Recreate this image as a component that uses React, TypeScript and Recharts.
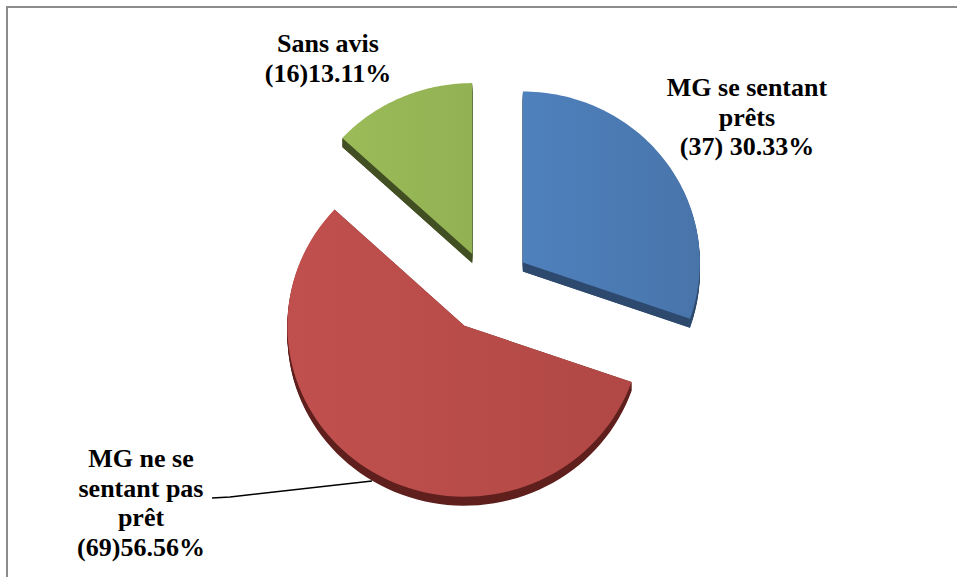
import React from 'react';
import { PieChart, Pie, Cell } from 'recharts';

const names = ['MG se sentant prêts', 'MG ne se sentant pas prêt', 'Sans avis'];
const counts = [37, 69, 16];
const labelLines = [
  ['MG se sentant', 'prêts', '(37) 30.33%'],
  ['MG ne se', 'sentant pas', 'prêt', '(69)56.56%'],
  ['Sans avis', '(16)13.11%'],
];

const data = names.map((name, i) => ({ name, value: counts[i] }));

const TOP = ['#4F81BD', '#C0504D', '#9BBB59'];
const TOP_DARK = ['#4874AA', '#B14845', '#92B153'];
const SIDE = ['#2D4A6E', '#5E1F1D', '#424F22'];
const EXPLODE = [44, 44, 37];
const LABEL_POS = [
  { x: 747, y: 96 },
  { x: 141, y: 467 },
  { x: 328, y: 52 },
];

const RAD = Math.PI / 180;
const TILT = 0.966;
const DEPTH = 9;
const FONT = "'Liberation Serif', 'Times New Roman', 'DejaVu Serif', serif";

const sliceIndex = (props: any) => {
  const n = props.name ?? props.payload?.name;
  const i = names.indexOf(n);
  return i >= 0 ? i : props.index ?? 0;
};

const Slice3D = (props: any) => {
  const { cx, cy, startAngle, endAngle, midAngle, outerRadius } = props;
  const i = sliceIndex(props);
  const d = EXPLODE[i];
  const mid = midAngle ?? (startAngle + endAngle) / 2;
  const ox = cx + d * Math.cos(-mid * RAD);
  const oy = cy + d * Math.sin(-mid * RAD);
  const pt = (a: number, dy = 0) => [
    ox + outerRadius * Math.cos(-a * RAD),
    oy + outerRadius * TILT * Math.sin(-a * RAD) + dy,
  ];
  const outline = (dy: number) => {
    const steps = 80;
    let s = `M${ox},${oy + dy}`;
    for (let k = 0; k <= steps; k++) {
      const a = startAngle + ((endAngle - startAngle) * k) / steps;
      const [x, y] = pt(a, dy);
      s += ` L${x},${y}`;
    }
    return s + ' Z';
  };
  const quad = (a: number) => {
    const [x, y] = pt(a);
    return `M${ox},${oy} L${x},${y} L${x},${y + DEPTH} L${ox},${oy + DEPTH} Z`;
  };
  const gid = `slice-grad-${i}`;
  return (
    <g>
      <defs>
        <linearGradient id={gid} x1="0" y1="0" x2="1" y2="0">
          <stop offset="0%" stopColor={TOP[i]} />
          <stop offset="100%" stopColor={TOP_DARK[i]} />
        </linearGradient>
      </defs>
      {Array.from({ length: DEPTH }, (_, k) => (
        <path key={k} d={outline(k + 1)} fill={SIDE[i]} />
      ))}
      <path d={quad(startAngle)} fill={SIDE[i]} />
      <path d={quad(endAngle)} fill={SIDE[i]} />
      <path d={outline(0)} fill={`url(#${gid})`} />
    </g>
  );
};

const renderLabel = (props: any) => {
  const i = sliceIndex(props);
  const pos = LABEL_POS[i];
  const lines = labelLines[i];
  return (
    <g key={`lbl-${i}`}>
      {i === 1 && (
        <path d="M212,498 L230,497 L372,481" fill="none" stroke="#000" strokeWidth={1.5} />
      )}
      <text
        x={pos.x}
        y={pos.y}
        textAnchor="middle"
        style={{ fontFamily: FONT, fontWeight: 'bold', fontSize: 26 }}
        fill="#000"
      >
        {lines.map((l, k) => (
          <tspan key={k} x={pos.x} dy={k === 0 ? 0 : 29.5}>
            {l}
          </tspan>
        ))}
      </text>
    </g>
  );
};

export default function App() {
  return (
    <div style={{ position: 'absolute', left: 0, top: 0, width: 957, height: 577, background: '#fff', overflow: 'hidden' }}>
      <div
        style={{
          position: 'absolute',
          left: 6,
          top: 6,
          width: 980,
          height: 600,
          border: '2px solid #8c8c8c',
        }}
      />
      <PieChart
        width={957}
        height={577}
        margin={{ top: 0, right: 0, bottom: 0, left: 0 }}
        style={{ position: 'absolute', left: 0, top: 0 }}
      >
        <Pie
          data={data}
          dataKey="value"
          nameKey="name"
          cx={487}
          cy={288}
          outerRadius={177}
          startAngle={90}
          endAngle={-270}
          stroke="none"
          shape={Slice3D}
          label={renderLabel}
          labelLine={false}
          isAnimationActive={false}
        >
          {data.map((e, i) => (
            <Cell key={e.name} fill={TOP[i]} />
          ))}
        </Pie>
      </PieChart>
    </div>
  );
}
